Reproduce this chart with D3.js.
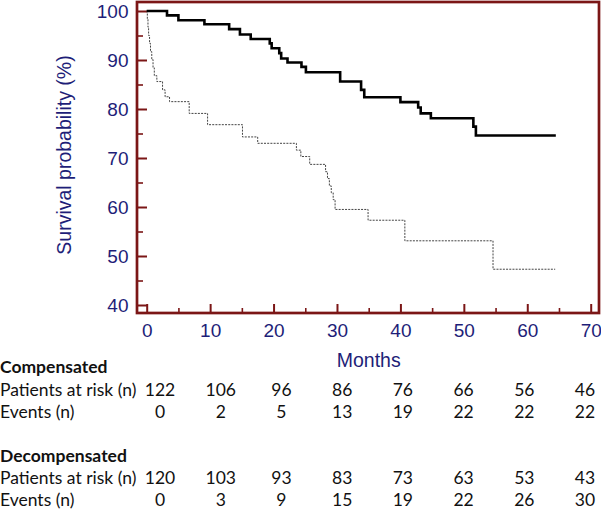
<!DOCTYPE html>
<html>
<head>
<meta charset="utf-8">
<script src="https://cdn.jsdelivr.net/npm/d3@7"></script>
<style>
  html, body { margin: 0; padding: 0; background: #fff; }
  svg { display: block; }
</style>
</head>
<body>
<svg id="svg" width="601" height="510"></svg>
<script>
// Kaplan-Meier steps (months, survival %)
const compTime = [0, 3.2, 5.0, 9.1, 13.0, 14.7, 16.4, 19.4, 19.7, 20.9, 21.2, 22.2, 24.4, 25.1, 30.5, 33.8, 34.3, 40.0, 42.8, 43.2, 44.8, 51.5, 51.9, 64.5];
const compSurv = [100, 99.1, 98.1, 97.3, 96.3, 95.2, 94.3, 93.4, 92.4, 91.4, 90.3, 89.5, 88.6, 87.5, 85.6, 83.9, 82.4, 81.4, 80.3, 79.1, 78.1, 76.4, 74.6, 74.6];

const decTime = [0, 0.1, 0.2, 0.3, 0.45, 0.6, 0.8, 1.0, 1.2, 1.6, 2.5, 2.9, 3.6, 6.7, 9.6, 15.1, 17.5, 23.6, 24.3, 25.7, 28.2, 28.5, 28.8, 29.1, 29.4, 29.7, 34.9, 40.7, 54.6, 64.4];
const decSurv = [100, 98.3, 96.7, 95.0, 93.4, 91.7, 90.1, 88.4, 86.8, 85.6, 83.9, 82.5, 81.5, 79.1, 76.8, 74.3, 73.0, 71.6, 70.3, 68.7, 67.2, 65.8, 64.3, 62.9, 61.5, 59.5, 57.3, 53.1, 47.3, 47.3];

// number-at-risk table
const groups = ['Compensated', 'Decompensated'];
const compAtRisk = [122, 106, 96, 86, 76, 66, 56, 46];
const compEvents = [0, 2, 5, 13, 19, 22, 22, 22];
const decAtRisk = [120, 103, 93, 83, 73, 63, 53, 43];
const decEvents = [0, 3, 9, 15, 19, 22, 26, 30];

const svg = d3.select('#svg');
const frame = '#7b1616', navy = '#1e1e78';
const axisFont = '"Liberation Sans", Arial, sans-serif';
const tableFont = 'Lato, "Open Sans", sans-serif';

const x = d3.scaleLinear().domain([0, 70]).range([146.7, 590.7]);
const y = d3.scaleLinear().domain([40, 100]).range([305, 11]);
const fr = { left: 137, right: 599, top: 2, bottom: 313 };

// minor ticks
svg.append('g').attr('transform', `translate(0,${fr.bottom})`)
  .call(d3.axisBottom(x).tickValues(d3.range(5, 70, 10)).tickSize(-5).tickFormat(''))
  .call(g => g.select('.domain').remove())
  .call(g => g.selectAll('line').attr('stroke', frame).attr('stroke-width', 1.6));
svg.append('g').attr('transform', `translate(${fr.left},0)`)
  .call(d3.axisLeft(y).tickValues(d3.range(45, 100, 10)).tickSize(-6).tickFormat(''))
  .call(g => g.select('.domain').remove())
  .call(g => g.selectAll('line').attr('stroke', frame).attr('stroke-width', 1.6));

// major ticks + labels
svg.append('g').attr('transform', `translate(0,${fr.bottom})`)
  .call(d3.axisBottom(x).tickValues(d3.range(0, 71, 10)).tickSize(-9).tickPadding(10.5))
  .call(g => g.select('.domain').remove())
  .call(g => g.selectAll('line').attr('stroke', frame).attr('stroke-width', 2))
  .call(g => g.selectAll('text').attr('fill', navy).attr('font-size', 19).attr('font-family', axisFont));
svg.append('g').attr('transform', `translate(${fr.left},0)`)
  .call(d3.axisLeft(y).tickValues(d3.range(40, 101, 10)).tickSize(-10).tickPadding(8.5))
  .call(g => g.select('.domain').remove())
  .call(g => g.selectAll('line').attr('stroke', frame).attr('stroke-width', 2))
  .call(g => g.selectAll('text').attr('fill', navy).attr('font-size', 19).attr('font-family', axisFont));

// curves
const line = d3.line().x(d => x(d[0])).y(d => y(d[1])).curve(d3.curveStepAfter);
svg.append('path').datum(d3.zip(decTime, decSurv))
  .attr('d', line).attr('fill', 'none').attr('stroke', '#444')
  .attr('stroke-width', 1).attr('stroke-dasharray', '2,1.2');
svg.append('path').datum(d3.zip(compTime, compSurv))
  .attr('d', line).attr('fill', 'none').attr('stroke', '#000')
  .attr('stroke-width', 2.6);

// frame
svg.append('rect').attr('x', fr.left).attr('y', fr.top)
  .attr('width', fr.right - fr.left).attr('height', fr.bottom - fr.top)
  .attr('fill', 'none').attr('stroke', frame).attr('stroke-width', 2.7);

// axis titles
svg.append('text').attr('x', x(35)).attr('y', 366.5)
  .attr('text-anchor', 'middle').attr('fill', navy)
  .attr('font-family', axisFont).attr('font-size', 19.5).text('Months');
svg.append('text').attr('transform', 'translate(71,155) rotate(-90)')
  .attr('text-anchor', 'middle').attr('fill', navy)
  .attr('font-family', axisFont).attr('font-size', 19.5).text('Survival probability (%)');

// risk table
const col = d3.scalePoint().domain(d3.range(8)).range([160, 585]);
const blocks = [
  { name: groups[0], risk: compAtRisk, ev: compEvents, y0: 373 },
  { name: groups[1], risk: decAtRisk, ev: decEvents, y0: 461.5 }
];
const tbl = svg.append('g').attr('font-family', tableFont).attr('font-size', 17.5).attr('fill', '#111');
blocks.forEach(b => {
  tbl.append('text').attr('x', 0).attr('y', b.y0).attr('font-weight', 'bold').text(b.name);
  tbl.append('text').attr('x', 0).attr('y', b.y0 + 22.5).text('Patients at risk (n)');
  tbl.append('text').attr('x', 0).attr('y', b.y0 + 44.5).text('Events (n)');
  tbl.append('g').selectAll('text').data(b.risk).join('text')
    .attr('x', (d, i) => col(i)).attr('y', b.y0 + 22.5).attr('text-anchor', 'middle').text(d => d);
  tbl.append('g').selectAll('text').data(b.ev).join('text')
    .attr('x', (d, i) => col(i)).attr('y', b.y0 + 44.5).attr('text-anchor', 'middle').text(d => d);
});
</script>
</body>
</html>
